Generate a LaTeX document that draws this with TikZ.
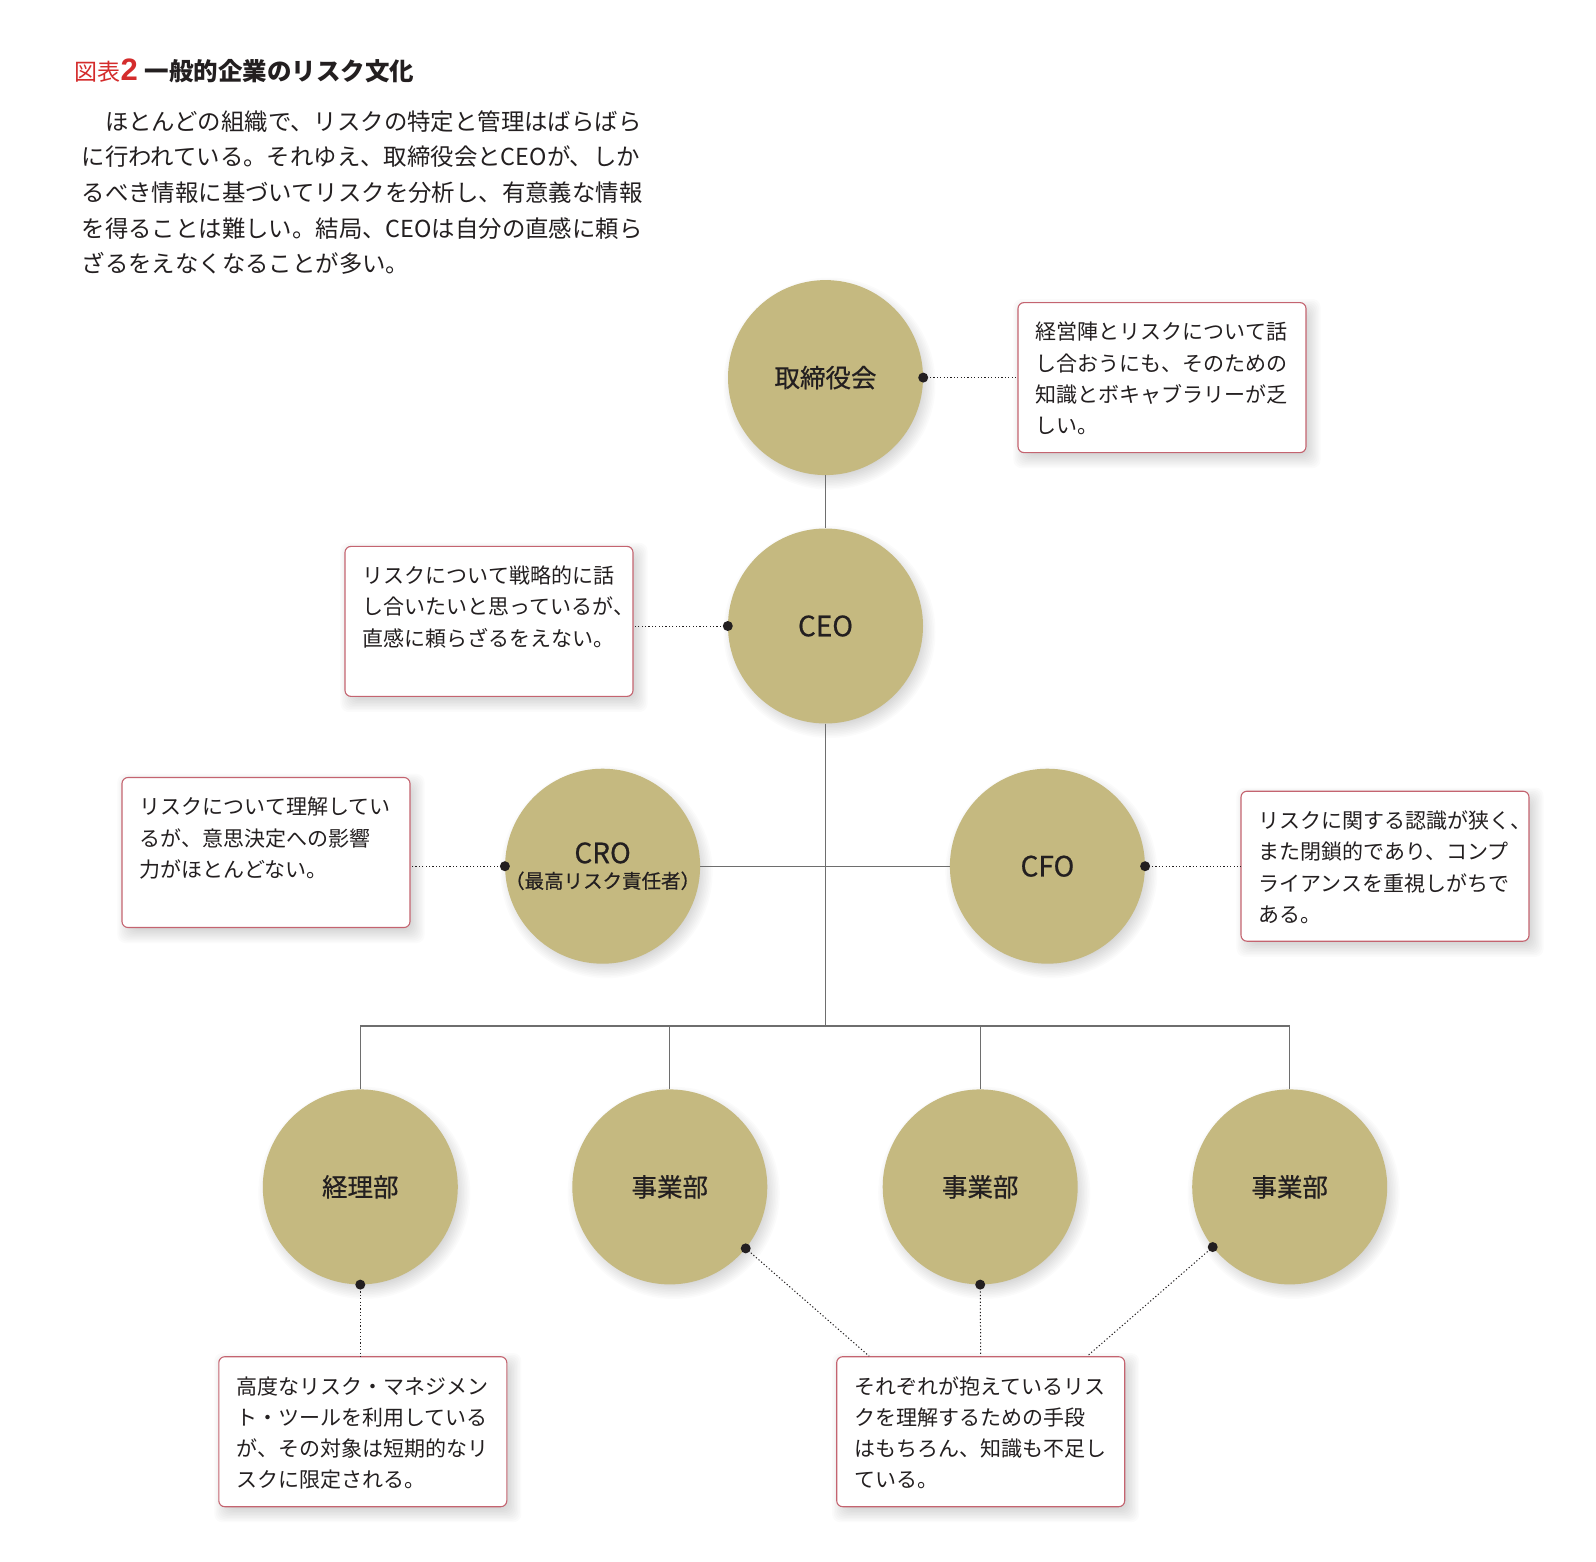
\documentclass[tikz,border=0pt]{standalone}
\usepackage{fontspec}
\setmainfont{Noto Sans CJK JP}
\newfontfamily\lbl{Noto Sans CJK JP}[FakeBold=0.6]
\newfontfamily\numfont{Liberation Sans}
\usetikzlibrary{backgrounds,calc}
\definecolor{gold}{RGB}{197,185,128}
\definecolor{boxline}{RGB}{196,100,112}
\definecolor{ink}{RGB}{35,31,32}
\definecolor{linegrey}{RGB}{110,110,110}
\definecolor{titlered}{RGB}{212,44,44}
\tikzset{
  role/.style={circle, fill=gold, minimum size=195pt, inner sep=0pt, text=ink, align=center},
  notebox/.style={draw=boxline, line width=1.1pt, fill=white, rounded corners=6pt, minimum width=288pt, minimum height=150pt, inner sep=0pt},
  notetext/.style={anchor=north west, inner sep=0pt, align=left, text=ink, font=\fontsize{21}{31.2}\selectfont},
  tree/.style={draw=linegrey, line width=1.1pt},
  leader/.style={draw=ink, line width=1pt, dash pattern=on 1.2pt off 2.2pt},
  pindot/.style={fill=ink},
}
\newcommand\circshadow[1]{%
  \foreach \k in {0,...,9}{%
    \fill[black, opacity=0.016] ($(#1.center)+(4,6)$) circle[radius={106pt-1.6pt*\k}];
  }}
\newcommand\boxshadow[1]{%
  \foreach \k in {0,...,9}{%
    \pgfmathsetmacro\sh{9-1.5*\k}
    \fill[black, opacity=0.016, rounded corners=8pt] ($(#1.north west)+(5-\sh,6-\sh)$) rectangle ($(#1.south east)+(5+\sh,6+\sh)$);
  }}
\begin{document}
\begin{tikzpicture}[x=1pt,y=-1pt]
\path[use as bounding box] (0,0) rectangle (1596,1562);

% title and intro
\node[anchor=west, inner sep=0pt, text=ink] (title) at (74.3,71.3)
  {{\color{titlered}\fontsize{23}{24}\selectfont 図表{\numfont\bfseries\fontsize{31}{31}\selectfont 2}}\hspace{7pt}{\bfseries\fontsize{24.5}{26}\selectfont 一般的企業のリスク文化}};
\node[anchor=north west, inner sep=0pt, align=left, text=ink, font=\fontsize{23.4}{35.6}\selectfont] (body) at (81.4,110.3)
  {　ほとんどの組織で、リスクの特定と管理はばらばら\\
   に行われている。それゆえ、取締役会とCEOが、しか\\
   るべき情報に基づいてリスクを分析し、有意義な情報\\
   を得ることは難しい。結局、CEOは自分の直感に頼ら\\
   ざるをえなくなることが多い。};

% role circles
\node[role, font=\lbl\fontsize{25.5}{30}\selectfont] (board) at (825.5,377.6) {取締役会};
\node[role, font=\lbl\fontsize{28}{30}\selectfont] (ceo) at (825.5,626) {CEO};
\node[role, font=\lbl\fontsize{28}{27}\selectfont] (cro) at (602.6,866.2)
  {CRO\\[-2pt]\makebox[0pt][c]{\fontsize{19.5}{22}\selectfont （最高リスク責任者）}};
\node[role, font=\lbl\fontsize{28}{30}\selectfont] (cfo) at (1047.4,866.2) {CFO};
\node[role, font=\lbl\fontsize{25.5}{30}\selectfont] (acct) at (360.3,1186.9) {経理部};
\node[role, font=\lbl\fontsize{25.5}{30}\selectfont] (biz1) at (669.8,1186.9) {事業部};
\node[role, font=\lbl\fontsize{25.5}{30}\selectfont] (biz2) at (980.2,1186.9) {事業部};
\node[role, font=\lbl\fontsize{25.5}{30}\selectfont] (biz3) at (1289.7,1186.9) {事業部};

% note boxes
\node[notebox] (box1) at (1162,377.6) {};
\node[notebox] (box2) at (489,621.4) {};
\node[notebox] (box3) at (266,852.5) {};
\node[notebox] (box4) at (1385,866.2) {};
\node[notebox] (box5) at (362.8,1431.7) {};
\node[notebox] (box6) at (980.7,1431.7) {};

\node[notetext] (t1) at ([xshift=18pt,yshift=-20pt]box1.north west) {経営陣とリスクについて話\\し合おうにも、そのための\\知識とボキャブラリーが乏\\しい。};
\node[notetext] (t2) at ([xshift=18pt,yshift=-20pt]box2.north west) {リスクについて戦略的に話\\し合いたいと思っているが、\\直感に頼らざるをえない。};
\node[notetext] (t3) at ([xshift=18pt,yshift=-20pt]box3.north west) {リスクについて理解してい\\るが、意思決定への影響\\力がほとんどない。};
\node[notetext] (t4) at ([xshift=18pt,yshift=-20pt]box4.north west) {リスクに関する認識が狭く、\\また閉鎖的であり、コンプ\\ライアンスを重視しがちで\\ある。};
\node[notetext] (t5) at ([xshift=18pt,yshift=-20pt]box5.north west) {高度なリスク・マネジメン\\ト・ツールを利用している\\が、その対象は短期的なリ\\スクに限定される。};
\node[notetext] (t6) at ([xshift=18pt,yshift=-20pt]box6.north west) {それぞれが抱えているリス\\クを理解するための手段\\はもちろん、知識も不足し\\ている。};

% tree connectors
\coordinate (hub) at (825.5,1026);
\draw[tree] (board) -- (ceo);
\draw[tree] (ceo.south) -- (hub);
\draw[tree] (cro) -- (cfo);
\draw[tree] (acct.north) |- (biz3.north |- hub) -- (biz3.north);
\draw[tree] (biz1.north) -- (biz1.north |- hub);
\draw[tree] (biz2.north) -- (biz2.north |- hub);

% leaders
\coordinate (b6a) at ([xshift=33pt]box6.north west);
\coordinate (b6b) at ([xshift=251pt]box6.north west);
\draw[leader] (board.east) -- (box1.west);
\draw[leader] (ceo.west) -- (ceo.west -| box2.east);
\draw[leader] (cro.west) -- (cro.west -| box3.east);
\draw[leader] (cfo.east) -- (box4.west);
\draw[leader] (acct.south) -- (acct.south |- box5.north);
\draw[leader] (biz1.-39) -- (b6a);
\draw[leader] (biz2.south) -- (box6.north);
\draw[leader] (biz3.-142) -- (b6b);
\foreach \p in {board.east, ceo.west, cro.west, cfo.east, acct.south, biz1.-39, biz2.south, biz3.-142}
  \fill[pindot] (\p) circle[radius=5pt];

% background: page and soft shadows
\begin{scope}[on background layer]
  \fill[white] (0,0) rectangle (1596,1562);
  \circshadow{board}\circshadow{ceo}\circshadow{cro}\circshadow{cfo}
  \circshadow{acct}\circshadow{biz1}\circshadow{biz2}\circshadow{biz3}
  \boxshadow{box1}\boxshadow{box2}\boxshadow{box3}
  \boxshadow{box4}\boxshadow{box5}\boxshadow{box6}
\end{scope}
\end{tikzpicture}
\end{document}
